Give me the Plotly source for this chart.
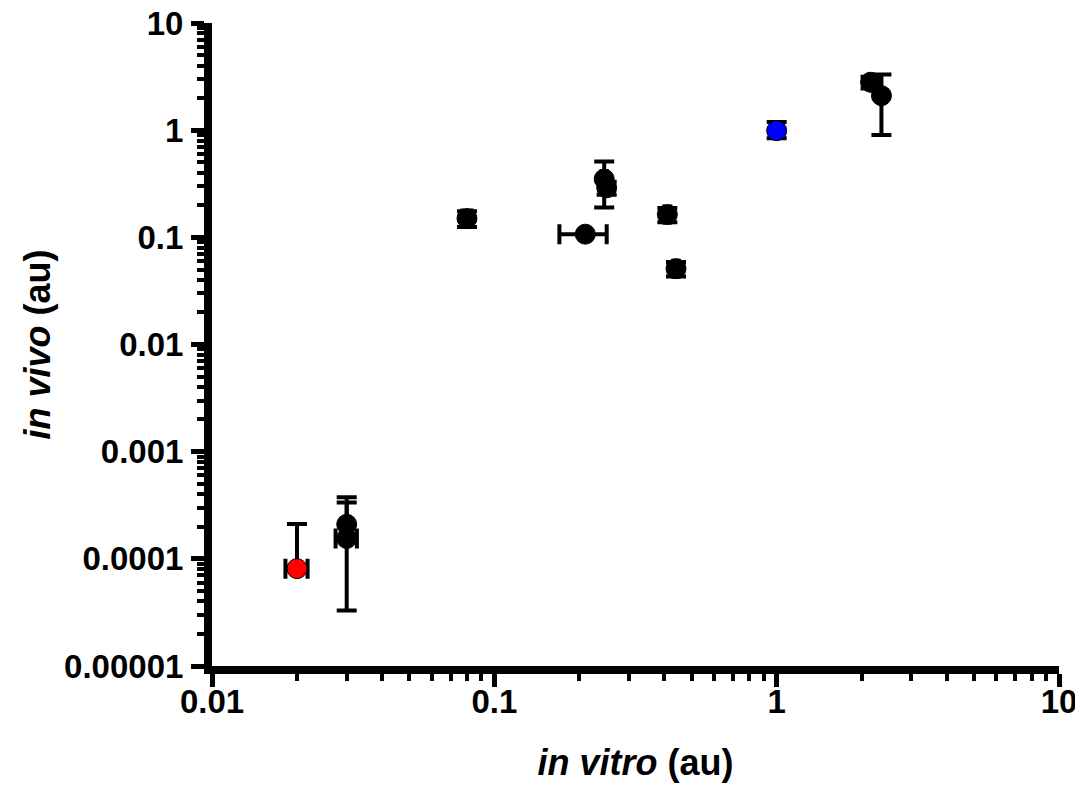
import plotly.graph_objects as go

# ---- data ----
black_x = [0.03, 0.03, 0.08, 0.21, 0.245, 0.25, 0.41, 0.44, 2.15, 2.35]
black_y = [2.1e-4, 1.55e-4, 0.15, 0.107, 0.35, 0.29, 0.163, 0.051, 2.8, 2.1]
black_yerr_plus = [1.65e-4, 1.8e-4, 0.025, 0.0, 0.16, 0.04, 0.025, 0.008, 0.35, 1.2]
black_yerr_minus = [1.77e-4, 0.0, 0.025, 0.0, 0.16, 0.04, 0.025, 0.008, 0.35, 1.2]
black_xerr = [0.0, 0.0026, 0.003, 0.04, 0.005, 0.0, 0.01, 0.01, 0.0, 0.0]

red_x = [0.02]
red_y = [8.1e-5]
red_yerr_plus = [1.3e-4]
red_yerr_minus = [0.0]
red_xerr = [0.0018]

blue_x = [1.0]
blue_y = [0.99]
blue_yerr_plus = [0.2]
blue_yerr_minus = [0.15]
blue_xerr = [0.0]

x_tickvals = [0.01, 0.1, 1, 10]
x_ticktext = ["0.01", "0.1", "1", "10"]
y_tickvals = [1e-5, 1e-4, 1e-3, 1e-2, 1e-1, 1, 10]
y_ticktext = ["0.00001", "0.0001", "0.001", "0.01", "0.1", "1", "10"]

FONT = "Liberation Sans, Arial, sans-serif"


def trace(x, y, yp, ym, xe, color):
    return go.Scatter(
        x=x, y=y, mode="markers",
        marker=dict(size=20, color=color, line=dict(color="black", width=1)),
        error_y=dict(type="data", array=yp, arrayminus=ym, symmetric=False,
                     color="black", thickness=4, width=10),
        error_x=dict(type="data", array=xe, color="black", thickness=4, width=10),
        showlegend=False,
    )


fig = go.Figure()
fig.add_trace(trace(black_x, black_y, black_yerr_plus, black_yerr_minus, black_xerr, "black"))
fig.add_trace(trace(red_x, red_y, red_yerr_plus, red_yerr_minus, red_xerr, "#ff0000"))
fig.add_trace(trace(blue_x, blue_y, blue_yerr_plus, blue_yerr_minus, blue_xerr, "#0000ff"))

axis_common = dict(
    type="log", showgrid=False, zeroline=False,
    showline=True, linewidth=8, linecolor="black",
    ticks="outside", ticklen=13, tickwidth=5, tickcolor="black",
    ticklabeloverflow="allow",
    tickfont=dict(family=FONT, size=33, color="black", weight="bold"),
    minor=dict(ticks="outside", ticklen=7, tickwidth=4, tickcolor="black", dtick="D1", showgrid=False),
)

fig.update_xaxes(
    **axis_common, range=[-2, 1], tickvals=x_tickvals, ticktext=x_ticktext,
    ticklabelstandoff=-14,
    title=dict(text="<b><i>in vitro</i> (au)</b>", font=dict(family=FONT, size=36, color="black"), standoff=34),
)
fig.update_yaxes(
    **axis_common, range=[-5, 1], tickvals=y_tickvals, ticktext=y_ticktext,
    ticklabelstandoff=1,
    title=dict(text="<b><i>in vivo</i> (au)</b>", font=dict(family=FONT, size=36, color="black"), standoff=6),
)

fig.update_layout(
    width=1083, height=785,
    margin=dict(l=204, r=32, t=15, b=127, autoexpand=False),
    plot_bgcolor="white", paper_bgcolor="white",
)

fig.write_html("out.html")
